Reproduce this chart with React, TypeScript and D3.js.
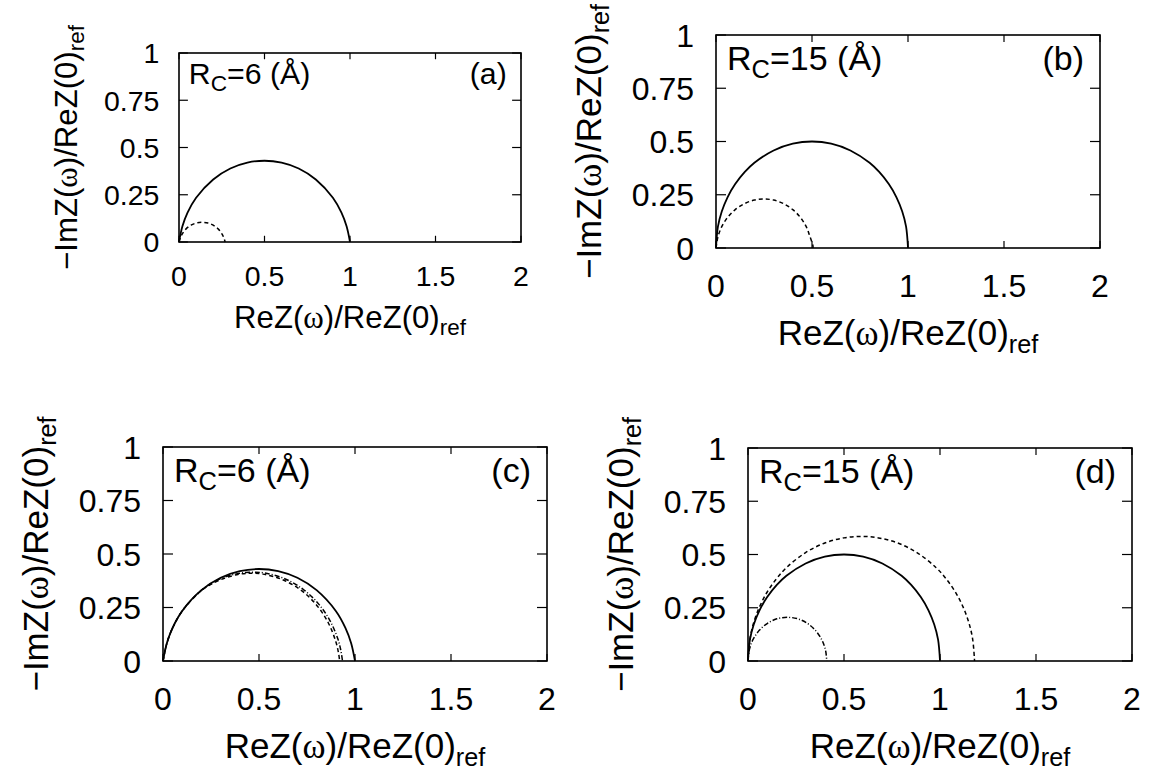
import {useEffect, useRef} from 'react';
import * as d3 from 'd3';

// axis ticks shared by all four panels
const xTicks = [0, 0.5, 1, 1.5, 2];
const yTicks = [0, 0.25, 0.5, 0.75, 1];
const panelTags = ['(a)', '(b)', '(c)', '(d)'];
const cutoffs = [6, 15, 6, 15];

// Nyquist arcs, [ReZ, -ImZ] normalised
const aSolid: [number, number][] = [
	[0, 0], [0.02, 0.083], [0.05, 0.155], [0.1, 0.234], [0.2, 0.331], [0.3, 0.389], [0.4, 0.42], [0.5, 0.43],
	[0.6, 0.42], [0.7, 0.389], [0.8, 0.331], [0.9, 0.234], [0.95, 0.155], [0.98, 0.083], [1, 0]
];
const aDash: [number, number][] = [
	[0, 0], [0.01, 0.027], [0.02, 0.044], [0.04, 0.068], [0.07, 0.089], [0.1, 0.1], [0.135, 0.104],
	[0.17, 0.1], [0.2, 0.089], [0.23, 0.068], [0.25, 0.044], [0.26, 0.027], [0.27, 0]
];
const bSolid: [number, number][] = [
	[0, 0], [0.01, 0.1], [0.03, 0.171], [0.06, 0.238], [0.1, 0.3], [0.15, 0.357], [0.2, 0.4], [0.3, 0.458],
	[0.4, 0.49], [0.5, 0.5], [0.6, 0.49], [0.7, 0.458], [0.8, 0.4], [0.85, 0.357], [0.9, 0.3], [0.94, 0.238],
	[0.97, 0.171], [0.99, 0.1], [1, 0]
];
const bDash: [number, number][] = [
	[0, 0], [0.01, 0.052], [0.03, 0.1], [0.06, 0.143], [0.1, 0.18], [0.15, 0.209], [0.2, 0.225], [0.25, 0.23],
	[0.3, 0.225], [0.35, 0.209], [0.4, 0.18], [0.44, 0.143], [0.47, 0.1], [0.49, 0.052], [0.505, 0.01], [0.505, 0]
];
const cSolid = aSolid;
const cDash: [number, number][] = [
	[0, 0], [0.02, 0.083], [0.05, 0.155], [0.1, 0.233], [0.2, 0.329], [0.3, 0.38], [0.4, 0.406], [0.46, 0.41],
	[0.52, 0.406], [0.62, 0.381], [0.72, 0.33], [0.8, 0.261], [0.86, 0.18], [0.9, 0.091], [0.915, 0.033], [0.92, 0]
];
const cDashDot: [number, number][] = [
	[0, 0], [0.02, 0.083], [0.05, 0.155], [0.1, 0.234], [0.2, 0.33], [0.3, 0.385], [0.4, 0.41], [0.47, 0.415],
	[0.53, 0.411], [0.63, 0.386], [0.73, 0.335], [0.81, 0.267], [0.87, 0.188], [0.91, 0.105], [0.925, 0.055], [0.935, 0]
];
const dSolid = bSolid;
const dDash: [number, number][] = [
	[0, 0], [0.01, 0.103], [0.03, 0.181], [0.06, 0.254], [0.1, 0.324], [0.15, 0.388], [0.2, 0.438], [0.3, 0.509],
	[0.4, 0.554], [0.5, 0.578], [0.59, 0.585], [0.68, 0.578], [0.78, 0.554], [0.88, 0.509], [0.98, 0.438],
	[1.03, 0.388], [1.08, 0.324], [1.12, 0.254], [1.15, 0.181], [1.17, 0.103], [1.18, 0]
];
const dDashDot: [number, number][] = [
	[0, 0], [0.005, 0.045], [0.015, 0.077], [0.03, 0.107], [0.06, 0.145], [0.1, 0.176], [0.15, 0.198], [0.205, 0.205],
	[0.26, 0.198], [0.31, 0.176], [0.35, 0.145], [0.38, 0.107], [0.395, 0.077], [0.405, 0.045], [0.41, 0]
];

const panelSeries = [
	[aSolid, aDash],
	[bSolid, bDash],
	[cSolid, cDash, cDashDot],
	[dSolid, dDash, dDashDot]
];
const dashes = [null, '4,3', '5,2,1,2'];

// frame boxes in px, font sizes
const boxes = [
	{x0: 179, x1: 521, y0: 53, y1: 242, k: 0.89},
	{x0: 716, x1: 1100, y0: 35, y1: 248, k: 1},
	{x0: 163, x1: 547, y0: 447, y1: 661, k: 1},
	{x0: 748, x1: 1132, y0: 448, y1: 661, k: 1}
];

const FONT = '"Liberation Sans", Arial, Helvetica, sans-serif';

function App(){
	const svgRef = useRef<SVGSVGElement>(null);

	useEffect(()=>{
		const svg = d3.select(svgRef.current);
		svg.selectAll('*').remove();

		boxes.forEach((b, p)=>{
			const k = b.k
				, x = d3.scaleLinear().domain([0, 2]).range([b.x0, b.x1])
				, y = d3.scaleLinear().domain([0, 1]).range([b.y1, b.y0])
				, g = svg.append('g')
				, tickF = 32 * k
				, labF = 35 * k
				, annF = 34 * k;

			// curves
			const line = d3.line<[number, number]>()
				.x(d=>x(d[0]))
				.y(d=>y(d[1]))
				.curve(d3.curveCatmullRom.alpha(0.5));

			panelSeries[p].forEach((s, i)=>{
				g.append('path')
					.datum(s)
					.attr('d', line)
					.attr('fill', 'none')
					.attr('stroke', '#000')
					.attr('stroke-width', i === 0 ? 1.8 : 1.5)
					.attr('stroke-dasharray', dashes[i]);
			});

			// frame
			g.append('rect')
				.attr('x', b.x0).attr('y', b.y0)
				.attr('width', b.x1 - b.x0).attr('height', b.y1 - b.y0)
				.attr('fill', 'none').attr('stroke', '#000').attr('stroke-width', 1.6);

			// ticks on all sides
			xTicks.forEach(t=>{
				g.append('line').attr('x1', x(t)).attr('x2', x(t)).attr('y1', b.y1).attr('y2', b.y1 - 7 * k)
					.attr('stroke', '#000').attr('stroke-width', 1.2);
				g.append('line').attr('x1', x(t)).attr('x2', x(t)).attr('y1', b.y0).attr('y2', b.y0 + 7 * k)
					.attr('stroke', '#000').attr('stroke-width', 1.2);
				g.append('text')
					.attr('x', x(t)).attr('y', b.y1 + 49 * k)
					.attr('text-anchor', 'middle')
					.attr('font-size', tickF)
					.text(String(t));
			});
			yTicks.forEach(t=>{
				g.append('line').attr('x1', b.x0).attr('x2', b.x0 + 10 * k).attr('y1', y(t)).attr('y2', y(t))
					.attr('stroke', '#000').attr('stroke-width', 1.2);
				g.append('line').attr('x1', b.x1).attr('x2', b.x1 - 10 * k).attr('y1', y(t)).attr('y2', y(t))
					.attr('stroke', '#000').attr('stroke-width', 1.2);
				g.append('text')
					.attr('x', b.x0 - 22 * k).attr('y', y(t) + 0.36 * tickF)
					.attr('text-anchor', 'end')
					.attr('font-size', tickF)
					.text(String(t));
			});

			// x label
			const xl = g.append('text')
				.attr('x', (b.x0 + b.x1) / 2).attr('y', b.y1 + 97 * k)
				.attr('text-anchor', 'middle')
				.attr('font-size', labF);
			xl.append('tspan').text('ReZ(');
			xl.append('tspan').attr('font-family', '"Liberation Serif", serif').text('ω');
			xl.append('tspan').text(')/ReZ(0)');
			xl.append('tspan').attr('font-size', labF * 0.72).attr('dy', 8 * k).text('ref');

			// y label
			const yl = g.append('text')
				.attr('transform', `translate(${b.x0 - 115 * k},${(b.y0 + b.y1) / 2}) rotate(-90)`)
				.attr('text-anchor', 'middle')
				.attr('font-size', labF);
			yl.append('tspan').text('\u2212ImZ(');
			yl.append('tspan').attr('font-family', '"Liberation Serif", serif').text('ω');
			yl.append('tspan').text(')/ReZ(0)');
			yl.append('tspan').attr('font-size', labF * 0.72).attr('dy', 8 * k).text('ref');

			// annotations
			const an = g.append('text')
				.attr('x', b.x0 + 11 * k).attr('y', b.y0 + 35 * k)
				.attr('font-size', annF);
			an.append('tspan').text('R');
			an.append('tspan').attr('font-size', annF * 0.75).attr('dy', 8 * k).text('C');
			an.append('tspan').attr('dy', -8 * k).text(`=${cutoffs[p]} (Å)`);

			g.append('text')
				.attr('x', b.x1 - 16 * k).attr('y', b.y0 + 35 * k)
				.attr('text-anchor', 'end')
				.attr('font-size', annF)
				.text(panelTags[p]);
		});
	}, []);

	return (<svg ref={svgRef}
	             width={1152}
	             height={775}
	             style={{display: 'block', position: 'absolute', left: 0, top: 0, background: '#fff', fontFamily: FONT}} />);
}

export default App;
